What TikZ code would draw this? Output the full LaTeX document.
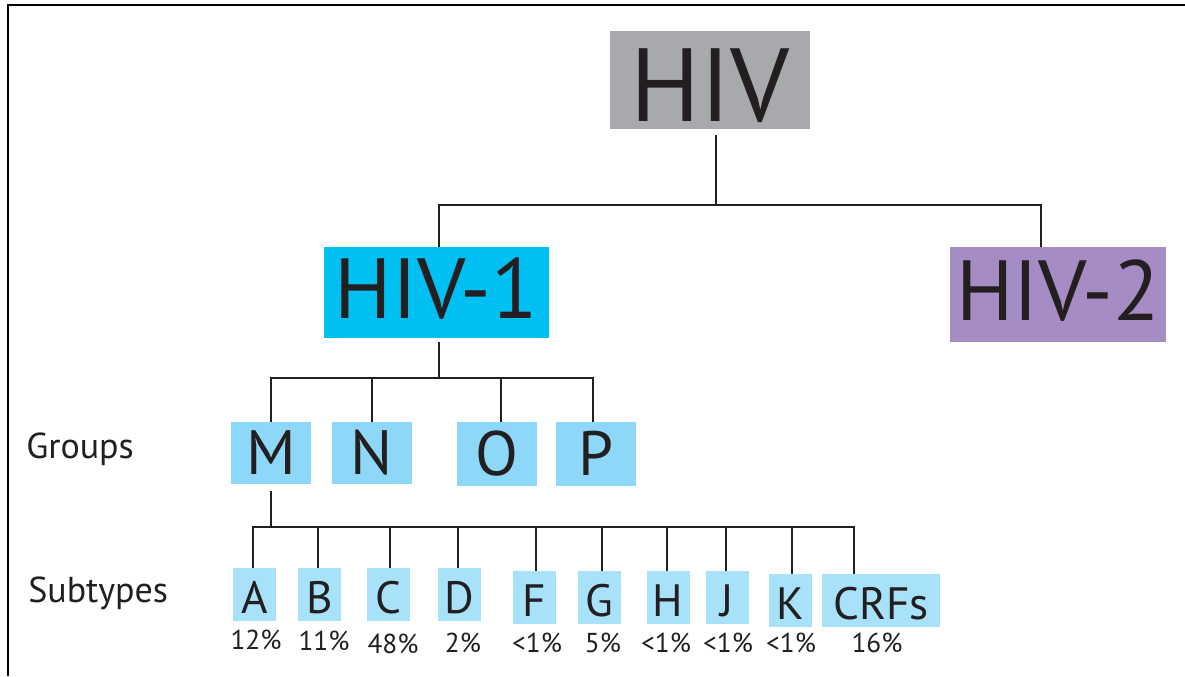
\documentclass[tikz,border=0pt]{standalone}
\usepackage{fontspec}
\setmainfont{PT Sans}
\definecolor{ink}{HTML}{231F20}
\definecolor{hivgray}{HTML}{A7A9AC}
\definecolor{hivone}{HTML}{00BFF3}
\definecolor{hivtwo}{HTML}{A68CC4}
\definecolor{grpblue}{HTML}{8DD8F8}
\definecolor{subblue}{HTML}{A8E1FA}
\tikzset{
  box/.style={inner sep=0pt, text=ink, text depth=0pt},
  bigbox/.style={box, text height=62.8pt, font=\fontsize{78}{80}\selectfont},
  midbox/.style={box, text height=44.8pt, text depth=5.2pt, font=\fontsize{64}{66}\selectfont},
  grpbox/.style={box, fill=grpblue, minimum width=60pt, text height=32.9pt, font=\fontsize{47}{49}\selectfont},
  subbox/.style={box, fill=subblue, minimum width=32.25pt, minimum height=39.75pt, text height=28.3pt, font=\fontsize{34}{36}\selectfont},
  pct/.style={anchor=base, inner sep=0pt, text=ink, font=\fontsize{20.5}{22}\selectfont},
  rowlabel/.style={anchor=base west, inner sep=0pt, text=ink, font=\fontsize{27}{29}\selectfont},
  link/.style={draw=ink, line width=2.1pt},
  frame/.style={draw=black, line width=2pt}
}
\begin{document}
\begin{tikzpicture}[x=0.75pt, y=-0.75pt]
\useasboundingbox (0,0) rectangle (1185,676);
% outer frame (top and left edges)
\coordinate (fr0) at (8,5);
\coordinate (fr1) at (1185,5);
\coordinate (fr2) at (8,676);
\draw[frame] (fr1) -- (fr0) -- (fr2);

% top level
\node[bigbox, fill=hivgray, minimum width=150pt, minimum height=73.5pt] (hiv) at (710,80) {HIV};
\node[midbox, fill=hivone, minimum width=168.75pt, minimum height=68.25pt] (hiv1) at (436.5,292.5) {HIV-1};
\node[midbox, fill=hivtwo, minimum width=162pt, minimum height=71.25pt] (hiv2) at (1058,294.5) {HIV-2};

% groups
\node[grpbox, minimum height=46.5pt] (gm) at (271,453) {M};
\node[grpbox, minimum height=46.5pt] (gn) at (372,453) {N};
\node[grpbox, minimum height=48pt] (go) at (497,454) {O};
\node[grpbox, minimum height=48pt] (gp) at (596,454) {P};

% subtypes
\node[subbox] (sa) at (254.5,594.5) {A};
\node[subbox] (sb) at (319.5,594.5) {B};
\node[subbox] (sc) at (388,594.5) {C};
\node[subbox] (sd) at (459.5,594.5) {D};
\node[subbox] (sf) at (534.5,597.5) {F};
\node[subbox] (sg) at (599.5,597.5) {G};
\node[subbox] (sh) at (668,597.5) {H};
\node[subbox] (sj) at (727.5,597.5) {J};
\node[subbox] (sk) at (790.5,600.5) {K};
\node[subbox, minimum width=88.5pt] (scrf) at (881,600.5) {CRFs};

% prevalence of each subtype
\node[pct] (pa) at (256,649) {12\%};
\node[pct] (pb) at (324,650) {11\%};
\node[pct] (pc) at (393,653) {48\%};
\node[pct] (pd) at (463,652) {2\%};
\node[pct] (pf) at (537,652) {<1\%};
\node[pct] (pg) at (603,652) {5\%};
\node[pct] (ph) at (666,652) {<1\%};
\node[pct] (pj) at (728,652) {<1\%};
\node[pct] (pk) at (791,652) {<1\%};
\node[pct] (pcrf) at (877,652) {16\%};

% row labels
\node[rowlabel] (lgroups) at (26,458) {Groups};
\node[rowlabel] (lsub) at (28,602) {Subtypes};

% junction points of the tree
\coordinate (j0) at (716,205);
\coordinate (j1) at (439,378);
\coordinate (j2) at (271,527);

% HIV -> HIV-1 / HIV-2
\draw[link] (hiv.south -| j0) ++(0,6) -- (j0);
\draw[link] (hiv1.north -| j1) |- (j0) -| ([xshift=-12.75pt]hiv2.north);

% HIV-1 -> groups
\draw[link] (hiv1.south -| j1) ++(0,4) -- (j1);
\draw[link] (gm.north) |- (j1) -| ([xshift=-2.25pt]gp.north);
\draw[link] (gn.north) -- (gn.north |- j1);
\draw[link] ([xshift=3pt]go.north) -- ([xshift=3pt]go.north |- j1);

% group M -> subtypes
\draw[link] (gm.south) ++(0,7) -- (j2);
\draw[link] ([xshift=-1.1pt]sa.north) |- (j2) -| ([xshift=-20.25pt]scrf.north);
\draw[link] ([xshift=-1.1pt]sb.north) -- ([xshift=-1.1pt]sb.north |- j2);
\draw[link] ([xshift=1.5pt]sc.north) -- ([xshift=1.5pt]sc.north |- j2);
\draw[link] ([xshift=-1.1pt]sd.north) -- ([xshift=-1.1pt]sd.north |- j2);
\draw[link] ([xshift=1.1pt]sf.north) -- ([xshift=1.1pt]sf.north |- j2);
\draw[link] ([xshift=1.9pt]sg.north) -- ([xshift=1.9pt]sg.north |- j2);
\draw[link] ([xshift=-0.75pt]sh.north) -- ([xshift=-0.75pt]sh.north |- j2);
\draw[link] ([xshift=-1.1pt]sj.north) -- ([xshift=-1.1pt]sj.north |- j2);
\draw[link] ([xshift=1.1pt]sk.north) -- ([xshift=1.1pt]sk.north |- j2);
\end{tikzpicture}
\end{document}
